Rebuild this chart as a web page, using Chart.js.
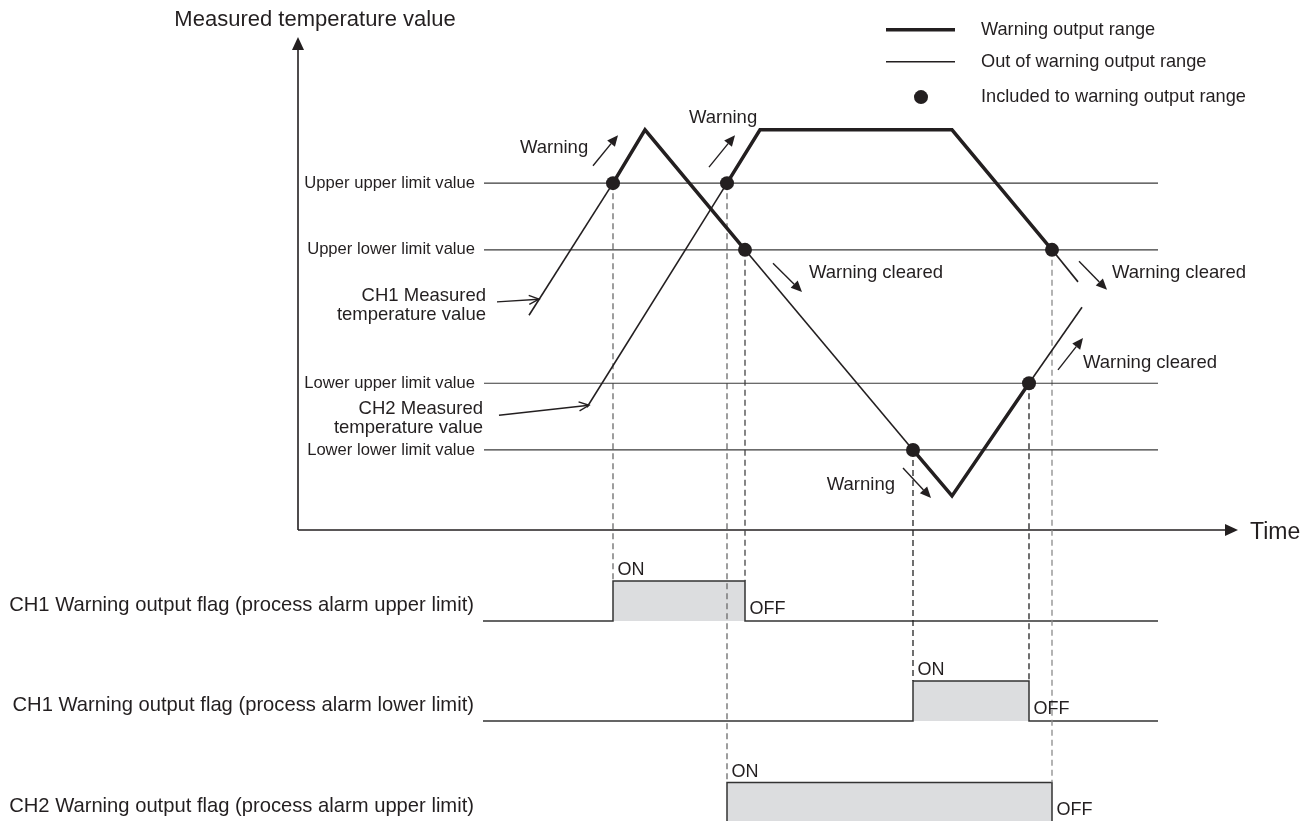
<!DOCTYPE html>
<html>
<head>
<meta charset="utf-8">
<title>Process alarm warning output</title>
<script src="https://cdn.jsdelivr.net/npm/chart.js@4.4.1/dist/chart.umd.min.js"></script>
<style>
  html, body { margin: 0; padding: 0; background: #fff; }
  #wrap { position: relative; width: 1312px; height: 821px; }
</style>
</head>
<body>
<div id="wrap"><canvas id="chart" width="1312" height="821"></canvas></div>
<script>
// ==================== DATA ====================
// time in arbitrary units (0 = vertical axis), temperature in arbitrary units (0 = time axis)
const limitLabels = ['Upper upper limit value', 'Upper lower limit value', 'Lower upper limit value', 'Lower lower limit value'];
const limitValues = [52, 42, 22, 12];
const limitRange = [18.6, 86.0];

const ch1Time = [23.1, 31.5, 34.7, 44.7, 61.5, 65.4, 73.1, 78.4];
const ch1Temp = [32.2, 52, 60, 42, 12, 5.1, 22, 33.4];
const ch1Warn = [false, true, true, false, true, true, false];   // one per segment
const ch1Dots = [1, 3, 4, 6];

const ch2Time = [28.9, 42.9, 46.2, 65.4, 75.4, 78.0];
const ch2Temp = [18.4, 52, 60, 60, 42, 37.2];
const ch2Warn = [false, true, true, true, false];
const ch2Dots = [1, 4];

const flagLabels = [
    'CH1 Warning output flag (process alarm upper limit)',
    'CH1 Warning output flag (process alarm lower limit)',
    'CH2 Warning output flag (process alarm upper limit)'
];
const flagOn = [ch1Time[1], ch1Time[4], ch2Time[1]];
const flagOff = [ch1Time[3], ch1Time[6], ch2Time[4]];
const flagRange = [18.5, 86.0];

const legendLabels = ['Warning output range', 'Out of warning output range', 'Included to warning output range'];

// ==================== LAYOUT ====================
const INK = '#231f20';
const FONT = '"Liberation Sans", Arial, Helvetica, sans-serif';
const flagBase = [-13.64, -28.64, -43.85];
const flagHeight = 6.0;
const axisEnd = { t: 94.0, v: 73.9 };
const dashColors = ['#6a6a6a', '#444', '#222', '#222', '#6a6a6a', '#8a8a8a'];
const THIN = 1.6, THICK = 3.5, DOT = 7;

// dashed drop lines: from a dot down to the top of its flag row
const drops = [
    { t: ch1Time[1], v: ch1Temp[1], row: 0 },
    { t: ch1Time[3], v: ch1Temp[3], row: 0 },
    { t: ch1Time[4], v: ch1Temp[4], row: 1 },
    { t: ch1Time[6], v: ch1Temp[6], row: 1 },
    { t: ch2Time[1], v: ch2Temp[1], row: 2 },
    { t: ch2Time[4], v: ch2Temp[4], row: 2 }
];

// ==================== DATASETS ====================
const datasets = [];

function seriesDataset(times, temps, warn, dots, order) {
    return {
        data: times.map((t, i) => ({ x: t, y: temps[i] })),
        borderColor: INK,
        borderWidth: THIN,
        borderJoinStyle: 'miter',
        segment: { borderWidth: ctx => warn[ctx.p0DataIndex] ? THICK : THIN },
        pointRadius: ctx => dots.includes(ctx.dataIndex) ? DOT : 0,
        pointBackgroundColor: INK,
        pointBorderWidth: 0,
        fill: false,
        order: order
    };
}
datasets.push(seriesDataset(ch1Time, ch1Temp, ch1Warn, ch1Dots, 1));
datasets.push(seriesDataset(ch2Time, ch2Temp, ch2Warn, ch2Dots, 1));

limitValues.forEach(v => {
    datasets.push({
        data: [{ x: limitRange[0], y: v }, { x: limitRange[1], y: v }],
        borderColor: '#3a3a3a', borderWidth: 1.2, pointRadius: 0, fill: false, order: 2
    });
});

drops.forEach((d, i) => {
    datasets.push({
        data: [{ x: d.t, y: d.v }, { x: d.t, y: flagBase[d.row] + flagHeight }],
        borderColor: dashColors[i], borderWidth: 1.3, borderDash: [6, 4],
        pointRadius: 0, fill: false, order: 3
    });
});

flagLabels.forEach((name, i) => {
    const b = flagBase[i];
    datasets.push({
        data: [
            { x: flagRange[0], y: b },
            { x: flagOn[i], y: b + flagHeight },
            { x: flagOff[i], y: b },
            { x: flagRange[1], y: b }
        ],
        stepped: 'before',
        borderColor: '#333', borderWidth: 1.5, pointRadius: 0,
        backgroundColor: '#dcdddf',
        fill: { value: b },
        order: 4
    });
});

// ==================== TEXT, ARROWS, AXES ====================
const notes = [
    { text: 'Warning', t: 22.2, v: 57.3, align: 'left', arrow: [29.5, 54.6, 32.0, 59.2] },
    { text: 'Warning', t: 39.1, v: 61.8, align: 'left', arrow: [41.1, 54.4, 43.7, 59.2] },
    { text: 'Warning cleared', t: 51.1, v: 38.5, align: 'left', arrow: [47.5, 40.0, 50.4, 35.7] },
    { text: 'Warning cleared', t: 81.4, v: 38.5, align: 'left', arrow: [78.1, 40.3, 80.9, 36.0] },
    { text: 'Warning cleared', t: 78.5, v: 25.0, align: 'left', arrow: [76.0, 24.0, 78.5, 28.8] },
    { text: 'Warning', t: 59.7, v: 6.7, align: 'right', arrow: [60.5, 9.3, 63.3, 4.8] }
];
const pointers = [
    { lines: ['CH1 Measured', 'temperature value'], t: 18.8, v: 35.1, arrow: [19.9, 34.2, 24.1, 34.6] },
    { lines: ['CH2 Measured', 'temperature value'], t: 18.5, v: 18.1, arrow: [20.1, 17.2, 29.1, 18.7] }
];

function arrowTo(ctx, x0, y0, x1, y1, len, half, open) {
    const a = Math.atan2(y1 - y0, x1 - x0);
    const bx = x1 - len * Math.cos(a), by = y1 - len * Math.sin(a);
    const nx = -Math.sin(a) * half, ny = Math.cos(a) * half;
    ctx.beginPath();
    ctx.moveTo(x0, y0);
    if (open) ctx.lineTo(x1, y1); else ctx.lineTo(bx, by);
    ctx.stroke();
    ctx.beginPath();
    if (open) {
        ctx.moveTo(bx + nx, by + ny); ctx.lineTo(x1, y1); ctx.lineTo(bx - nx, by - ny);
        ctx.stroke();
    } else {
        ctx.moveTo(x1, y1); ctx.lineTo(bx + nx, by + ny); ctx.lineTo(bx - nx, by - ny);
        ctx.closePath(); ctx.fill();
    }
}

const decorPlugin = {
    id: 'decor',
    beforeDatasetsDraw(chart) {
        const { ctx, scales: { x, y } } = chart;
        const X = t => x.getPixelForValue(t), Y = v => y.getPixelForValue(v);
        ctx.save();
        ctx.strokeStyle = INK; ctx.fillStyle = INK; ctx.lineWidth = 1.6;
        arrowTo(ctx, X(0), Y(0), X(0), Y(axisEnd.v), 13, 6, false);
        arrowTo(ctx, X(0), Y(0), X(axisEnd.t), Y(0), 13, 6, false);
        ctx.restore();
    },
    afterDatasetsDraw(chart) {
        const { ctx, scales: { x, y } } = chart;
        const X = t => x.getPixelForValue(t), Y = v => y.getPixelForValue(v);
        ctx.save();
        ctx.fillStyle = INK; ctx.strokeStyle = INK;
        ctx.textBaseline = 'middle';

        // axis titles
        ctx.font = `22px ${FONT}`;
        ctx.textAlign = 'center';
        ctx.fillText('Measured temperature value', X(1.7), Y(76.5));
        ctx.textAlign = 'left';
        ctx.font = `23px ${FONT}`;
        ctx.fillText('Time', X(95.2), Y(-0.45));

        // limit labels
        ctx.font = `16.6px ${FONT}`;
        ctx.textAlign = 'right';
        limitLabels.forEach((s, i) => ctx.fillText(s, X(limitRange[0] - 0.9), Y(limitValues[i])));

        // warning notes
        ctx.font = `18.5px ${FONT}`;
        ctx.lineWidth = 1.4;
        notes.forEach(n => {
            ctx.textAlign = n.align;
            ctx.fillText(n.text, X(n.t), Y(n.v));
            const a = n.arrow;
            arrowTo(ctx, X(a[0]), Y(a[1]), X(a[2]), Y(a[3]), 11, 5, false);
        });

        // measured value pointers
        pointers.forEach(p => {
            ctx.textAlign = 'right';
            p.lines.forEach((s, k) => ctx.fillText(s, X(p.t), Y(p.v) + k * 19));
            const a = p.arrow;
            arrowTo(ctx, X(a[0]), Y(a[1]), X(a[2]), Y(a[3]), 10, 4.5, true);
        });

        // legend
        ctx.lineWidth = THICK;
        ctx.beginPath(); ctx.moveTo(X(58.8), Y(75.0)); ctx.lineTo(X(65.7), Y(75.0)); ctx.stroke();
        ctx.lineWidth = THIN;
        ctx.beginPath(); ctx.moveTo(X(58.8), Y(70.2)); ctx.lineTo(X(65.7), Y(70.2)); ctx.stroke();
        ctx.beginPath(); ctx.arc(X(62.3), Y(64.9), DOT, 0, Math.PI * 2); ctx.fill();
        ctx.font = `18.2px ${FONT}`;
        ctx.textAlign = 'left';
        [75.0, 70.2, 64.9].forEach((v, i) => ctx.fillText(legendLabels[i], X(68.3), Y(v)));

        // flag rows
        flagLabels.forEach((s, i) => {
            const b = flagBase[i];
            ctx.font = `20.2px ${FONT}`;
            ctx.textAlign = 'right';
            ctx.fillText(s, X(flagRange[0] - 0.9), Y(b + flagHeight * 0.4));
            ctx.font = `18px ${FONT}`;
            ctx.textAlign = 'left';
            ctx.fillText('ON', X(flagOn[i] + 0.45), Y(b + flagHeight + 1.6));
            ctx.fillText('OFF', X(flagOff[i] + 0.45), Y(b + 1.8));
        });
        ctx.restore();
    }
};

new Chart(document.getElementById('chart'), {
    type: 'line',
    data: { datasets },
    options: {
        responsive: false,
        animation: false,
        devicePixelRatio: 1,
        layout: { padding: 0 },
        plugins: { legend: { display: false }, tooltip: { enabled: false } },
        events: [],
        scales: {
            x: { type: 'linear', min: -29.8, max: 101.4, display: false },
            y: { type: 'linear', min: -43.63, max: 79.46, display: false }
        }
    },
    plugins: [decorPlugin]
});
</script>
</body>
</html>
